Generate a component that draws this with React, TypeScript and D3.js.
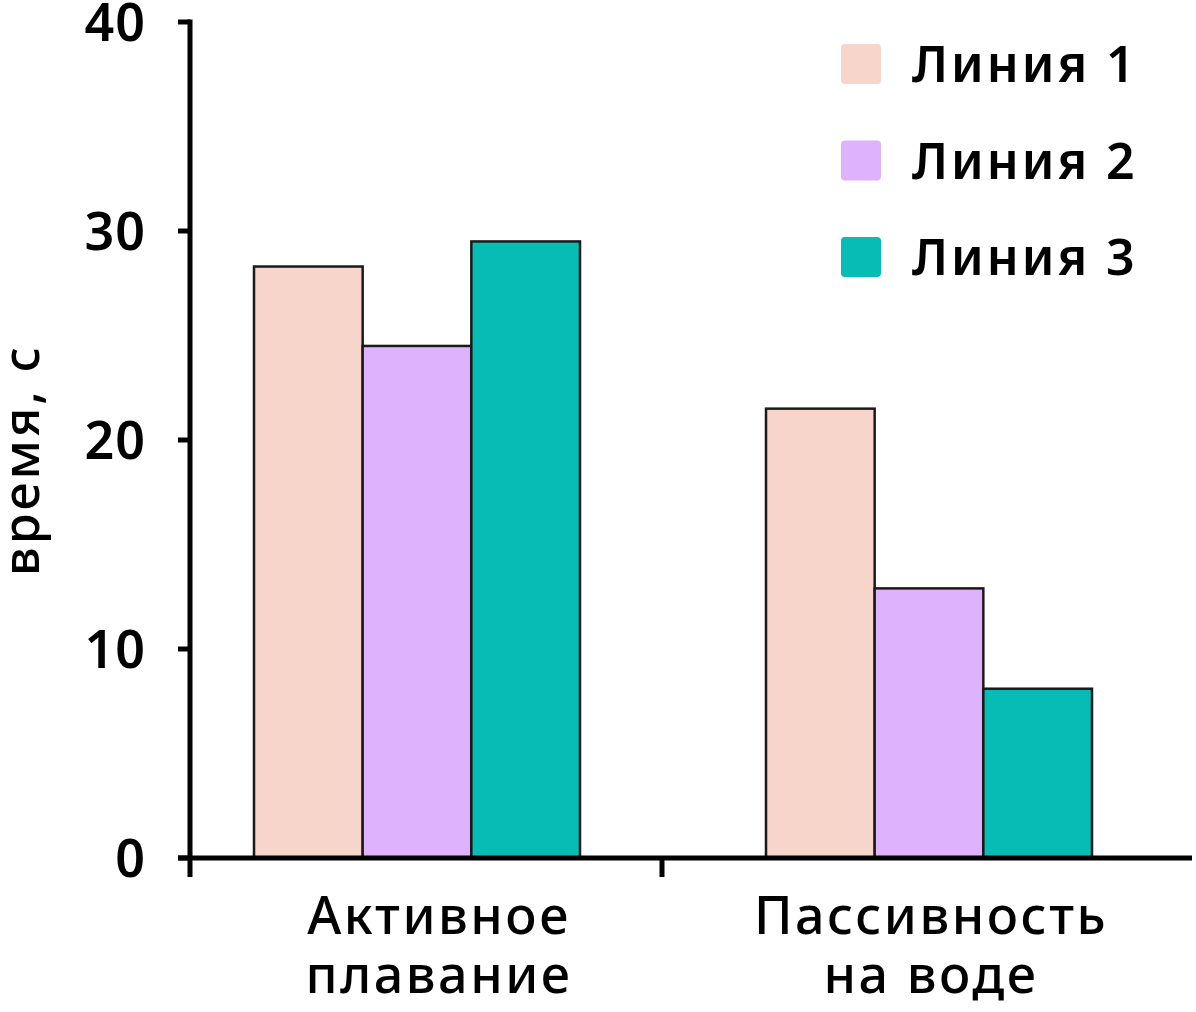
import React, { useEffect } from "react";
import * as d3 from "d3";

const categories = ["Активное\nплавание", "Пассивность\nна воде"];
const seriesNames = ["Линия 1", "Линия 2", "Линия 3"];
const line1 = [28.3, 21.5];
const line2 = [24.5, 12.9];
const line3 = [29.5, 8.1];
const yTicks = [0, 10, 20, 30, 40];

const seriesColors: Record<string, string> = {
  "Линия 1": "#f7d5ca", // peach
  "Линия 2": "#deb2fd", // lavender
  "Линия 3": "#06bcb4", // teal
};

export default function App() {
  useEffect(() => {
    const width = 1196;
    const height = 1012;
    const axisX = 190;
    const font = "'Noto Sans', sans-serif";

    const values = [line1, line2, line3];

    const svg = d3.select("#bar-chart").select("svg");
    svg.selectAll("*").remove();
    svg
      .attr("width", width)
      .attr("height", height)
      .attr("viewBox", [0, 0, width, height])
      .style("font-family", font);

    const y = d3.scaleLinear().domain([0, 40]).range([858, 22]);

    const x0 = d3.scaleBand<string>().domain(categories).range([161, 1185]);
    const groupWidth = 326;
    const x1 = d3
      .scaleBand<string>()
      .domain(seriesNames)
      .range([(x0.bandwidth() - groupWidth) / 2, (x0.bandwidth() + groupWidth) / 2]);

    // bars
    const groups = svg
      .selectAll("g.group")
      .data(categories)
      .join("g")
      .attr("class", "group")
      .attr("transform", (c) => `translate(${x0(c)},0)`);

    groups
      .selectAll("rect")
      .data((c) => seriesNames.map((s, si) => ({ s, v: values[si][categories.indexOf(c)] })))
      .join("rect")
      .attr("x", (d) => x1(d.s)!)
      .attr("y", (d) => y(d.v))
      .attr("width", x1.bandwidth())
      .attr("height", (d) => y(0) - y(d.v))
      .attr("fill", (d) => seriesColors[d.s])
      .attr("stroke", "#1a1a1a")
      .attr("stroke-width", 2.5);

    // y axis
    svg
      .append("line")
      .attr("x1", axisX)
      .attr("x2", axisX)
      .attr("y1", y(40) - 2.5)
      .attr("y2", y(0) + 19)
      .attr("stroke", "#000")
      .attr("stroke-width", 5);

    const yt = svg.append("g").selectAll("g").data(yTicks).join("g");
    yt.append("line")
      .attr("x1", axisX - 12)
      .attr("x2", axisX)
      .attr("y1", (d) => y(d))
      .attr("y2", (d) => y(d))
      .attr("stroke", "#000")
      .attr("stroke-width", 5);
    yt.append("text")
      .attr("x", 146)
      .attr("y", (d) => y(d))
      .attr("dy", "0.36em")
      .attr("text-anchor", "end")
      .attr("font-size", 52)
      .attr("font-weight", 600)
      .attr("letter-spacing", 1)
      .attr("fill", "#000")
      .text((d) => d);

    // x axis
    svg
      .append("line")
      .attr("x1", axisX - 12)
      .attr("x2", 1192)
      .attr("y1", y(0))
      .attr("y2", y(0))
      .attr("stroke", "#000")
      .attr("stroke-width", 5);

    svg
      .append("g")
      .selectAll("line")
      .data(categories.slice(1))
      .join("line")
      .attr("x1", (c) => x0(c)! - 11)
      .attr("x2", (c) => x0(c)! - 11)
      .attr("y1", y(0))
      .attr("y2", y(0) + 19)
      .attr("stroke", "#000")
      .attr("stroke-width", 5);

    const xl = svg
      .append("g")
      .selectAll("text")
      .data(categories)
      .join("text")
      .attr("text-anchor", "middle")
      .attr("font-size", 52)
      .attr("font-weight", 500)
      .attr("letter-spacing", 2.5)
      .attr("fill", "#000");
    xl.selectAll("tspan")
      .data((c) => c.split("\n").map((t) => ({ t, c })))
      .join("tspan")
      .attr("x", (d) => x0(d.c)! + x0.bandwidth() / 2 + (categories.indexOf(d.c) === 0 ? 22 : 2))
      .attr("y", (_d, i) => 934 + i * 59)
      .text((d) => d.t);

    // y label
    svg
      .append("text")
      .attr("transform", "translate(39,460) rotate(-90)")
      .attr("text-anchor", "middle")
      .attr("font-size", 50)
      .attr("font-weight", 500)
      .attr("letter-spacing", 3)
      .attr("fill", "#000")
      .text("время, с");

    // legend
    const legend = svg
      .append("g")
      .selectAll("g")
      .data(seriesNames)
      .join("g")
      .attr("transform", (_d, i) => `translate(841, ${64 + i * 96.5})`);
    legend
      .append("rect")
      .attr("x", 0)
      .attr("y", -20)
      .attr("width", 40)
      .attr("height", 40)
      .attr("rx", 4)
      .attr("fill", (d) => seriesColors[d]);
    legend
      .append("text")
      .attr("x", 71)
      .attr("y", 0)
      .attr("dy", "0.36em")
      .attr("font-size", 50)
      .attr("font-weight", 600)
      .attr("letter-spacing", 3)
      .attr("fill", "#000")
      .text((d) => d);
  }, []);

  return (
    <div id="bar-chart" style={{ position: "absolute", left: 0, top: 0 }}>
      <svg></svg>
    </div>
  );
}
